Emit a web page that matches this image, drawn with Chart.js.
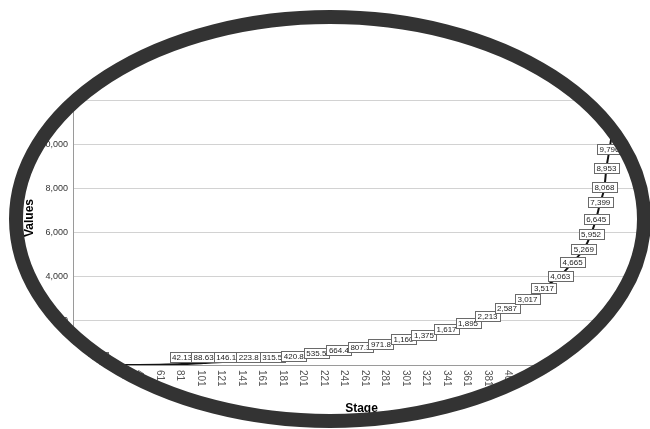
<!DOCTYPE html>
<html>
<head>
<meta charset="utf-8">
<script src="https://cdn.jsdelivr.net/npm/chart.js@4.4.1/dist/chart.umd.min.js"></script>
<style>
  html, body { margin: 0; padding: 0; background: #fff; }
  #wrap { width: 650px; height: 429px; }
</style>
</head>
<body>
<div id="wrap"><canvas id="stageChart" width="650" height="429"></canvas></div>
<script>
/* Stage vs Values line chart (SPSS look) inside an oval frame */

// stage position of each plotted point
const stages = [1, 21, 41, 61, 83, 104, 126, 148, 171, 192, 214, 236, 257, 277, 299, 319,
                341, 362, 381, 400, 420, 436, 452, 464, 475, 482, 487, 491, 495, 497, 500, 503];
// values
const values = [0.5, 1.2, 4.6, 15.8, 42.13, 88.63, 146.1, 223.8, 315.5, 420.8, 535.5, 664.4,
                807.3, 971.8, 1160, 1375, 1617, 1895, 2213, 2587, 3017, 3517, 4063, 4665,
                5269, 5952, 6645, 7399, 8068, 8953, 9796, 10690];
// boxed point labels ('' = no label shown)
const valueLabels = ['0.52', '', '', '', '42.13', '88.63', '146.1', '223.8', '315.5', '420.8',
                     '535.5', '664.4', '807.3', '971.8', '1,160', '1,375', '1,617', '1,895',
                     '2,213', '2,587', '3,017', '3,517', '4,063', '4,665', '5,269', '5,952',
                     '6,645', '7,399', '8,068', '8,953', '9,796', ''];
// category tick labels on the x axis
const xTicks = [1, 21, 41, 61, 81, 101, 121, 141, 161, 181, 201, 221, 241, 261, 281, 301,
                321, 341, 361, 381, 401, 421, 441, 461, 481, 501, 521];
// value axis ticks
const yTicks = [0, 2000, 4000, 6000, 8000, 10000, 12000];

const FONT = '"Liberation Sans", Arial, sans-serif';

// boxed value labels, SPSS style
const valueLabelPlugin = {
    id: 'valueLabels',
    afterDatasetsDraw(chart) {
        const ctx = chart.ctx;
        const meta = chart.getDatasetMeta(0);
        const floorY = chart.scales.y.getPixelForValue(0) - 8.5; // keep boxes above the axis
        ctx.save();
        ctx.font = '8px ' + FONT;
        ctx.textAlign = 'center';
        ctx.textBaseline = 'middle';
        meta.data.forEach((pt, i) => {
            const txt = valueLabels[i];
            if (!txt) return;
            const w = Math.ceil(ctx.measureText(txt).width) + 4;
            const h = 10;
            const cy = Math.min(pt.y, floorY);
            const bx = Math.round(pt.x - w / 2) + 0.5;
            const by = Math.round(cy - h / 2) + 0.5;
            ctx.fillStyle = '#fff';
            ctx.fillRect(bx, by, w, h);
            ctx.strokeStyle = '#6a6a6a';
            ctx.lineWidth = 1;
            ctx.strokeRect(bx, by, w, h);
            ctx.fillStyle = '#222';
            ctx.fillText(txt, pt.x, by + h / 2 + 0.5);
        });
        ctx.restore();
    }
};

// rotated x tick labels + the oval frame on top of everything
const frameStyle = { cx: 330, cy: 219, rx: 314, ry: 202, width: 14, color: '#333' };
const framePlugin = {
    id: 'ovalFrame',
    afterDraw(chart) {
        const ctx = chart.ctx;
        const xs = chart.scales.x;
        ctx.save();
        ctx.font = '10px ' + FONT;
        ctx.fillStyle = '#555';
        ctx.textAlign = 'left';
        ctx.textBaseline = 'middle';
        xTicks.forEach(v => {
            const px = xs.getPixelForValue(v);
            ctx.save();
            ctx.translate(px, xs.top + 5);
            ctx.rotate(Math.PI / 2);
            ctx.fillText(String(v), 0, 0);
            ctx.restore();
        });

        const f = frameStyle;
        ctx.beginPath();
        ctx.rect(0, 0, chart.width, chart.height);
        ctx.ellipse(f.cx, f.cy, f.rx + f.width / 2, f.ry + f.width / 2, 0, 0, Math.PI * 2);
        ctx.fillStyle = '#fff';
        ctx.fill('evenodd');

        ctx.beginPath();
        ctx.ellipse(f.cx, f.cy, f.rx, f.ry, 0, 0, Math.PI * 2);
        ctx.lineWidth = f.width;
        ctx.strokeStyle = f.color;
        ctx.stroke();
        ctx.restore();
    }
};

new Chart(document.getElementById('stageChart'), {
    type: 'line',
    data: {
        datasets: [{
            label: 'Values',
            data: stages.map((s, i) => ({ x: s, y: values[i] })),
            borderColor: '#111',
            borderWidth: 2,
            pointRadius: 0,
            cubicInterpolationMode: 'monotone',
            fill: false
        }]
    },
    options: {
        responsive: false,
        animation: false,
        layout: { padding: { top: 71, right: 0, bottom: 0, left: 0 } },
        plugins: {
            legend: { display: false },
            tooltip: { enabled: false }
        },
        scales: {
            x: {
                type: 'linear',
                min: -23.4,
                max: 539.5,
                afterBuildTicks: scale => { scale.ticks = xTicks.map(v => ({ value: v })); },
                afterFit: scale => { scale.height = 64; },
                ticks: { display: false },
                grid: { display: false },
                border: { display: true, color: '#9a9a9a' },
                title: {
                    display: true,
                    text: 'Stage',
                    color: '#000',
                    font: { family: FONT, size: 12, weight: 'bold' },
                    padding: { top: 0, bottom: 13 }
                }
            },
            y: {
                min: 0,
                max: 13360,
                afterBuildTicks: scale => { scale.ticks = yTicks.map(v => ({ value: v })); },
                afterFit: scale => { scale.width = 73; },
                ticks: {
                    padding: 5,
                    color: '#333',
                    font: { family: FONT, size: 9 },
                    callback: v => v.toLocaleString('en-US')
                },
                grid: { color: '#d2d2d2', drawTicks: false },
                border: { display: true, color: '#9a9a9a' },
                title: {
                    display: true,
                    text: 'Values',
                    color: '#000',
                    font: { family: FONT, size: 12, weight: 'bold' },
                    padding: { top: 22, bottom: 0 }
                }
            }
        }
    },
    plugins: [valueLabelPlugin, framePlugin]
});
</script>
</body>
</html>
